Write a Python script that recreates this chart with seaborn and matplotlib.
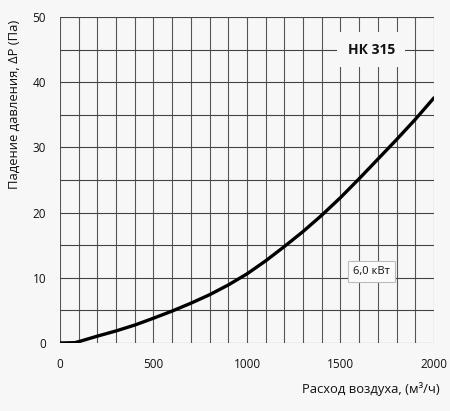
import matplotlib
matplotlib.use("Agg")
import matplotlib.pyplot as plt
import seaborn as sns
import pandas as pd

flow = [0, 80, 100, 200, 300, 400, 500, 600, 700, 800, 900, 1000, 1100, 1200, 1300, 1400, 1500, 1600, 1700, 1800, 1900, 2000]
pressure = [0, 0.05, 0.2, 1.05, 1.85, 2.75, 3.8, 4.9, 6.1, 7.4, 8.9, 10.6, 12.6, 14.8, 17.1, 19.6, 22.3, 25.2, 28.2, 31.2, 34.3, 37.6]
x_ticks = [0, 500, 1000, 1500, 2000]
y_ticks = [0, 10, 20, 30, 40, 50]
model_label = "НК 315"
power_label = "6,0 кВт"
x_label = "Расход воздуха, (м³/ч)"
y_label = "Падение давления, ΔP (Па)"

df = pd.DataFrame({"flow": flow, "pressure": pressure})

sns.set_theme(style="white")
plt.rcParams['font.family'] = ['Open Sans', 'DejaVu Sans']
bg = "#f7f7f7"
fig = plt.figure(figsize=(4.5, 4.11), dpi=100, facecolor=bg)
ax = fig.add_axes([0.1333, 0.1655, 0.8311, 0.7931])
ax.set_facecolor(bg)

for xv in range(0, 2001, 100):
    ax.axvline(xv, color="#555555", lw=0.8, zorder=1)
for yv in range(0, 51, 5):
    ax.axhline(yv, color="#444444", lw=0.8, zorder=1)

sns.lineplot(data=df, x="flow", y="pressure", ax=ax, color="black", lw=2.4, zorder=3)

ax.set_xlim(0, 2000)
ax.set_ylim(0, 50)
ax.set_xticks(x_ticks)
ax.set_yticks(y_ticks)
for s in ax.spines.values():
    s.set_visible(False)
ax.tick_params(axis="both", length=4, width=0.8, color="#777777", labelsize=8.5, labelcolor="#111111", direction="out")
ax.tick_params(axis="x", pad=7)
ax.tick_params(axis="y", pad=6)
ax.set_xlabel(x_label, fontsize=9.4, color="#111111")
ax.xaxis.set_label_coords(1.016, -0.12)
ax.xaxis.label.set_horizontalalignment("right")
ax.set_ylabel("")
fig.text(14 / 450, 1 - 20 / 411, y_label, rotation=90, ha="center", va="top", fontsize=9.4, color="#111111")

ax.text(1665, 45, model_label, ha="center", va="center", fontsize=10, fontweight="bold", color="#111111", zorder=4,
        bbox=dict(boxstyle="square,pad=0.75", facecolor=bg, edgecolor="none"))
ax.text(1665, 11.0, power_label, ha="center", va="center", fontsize=8, color="#111111", zorder=4,
        bbox=dict(boxstyle="square,pad=0.45", facecolor="#fbfbfb", edgecolor="#bbbbbb", lw=0.8))

fig.savefig("out.png", dpi=100, facecolor=bg)
